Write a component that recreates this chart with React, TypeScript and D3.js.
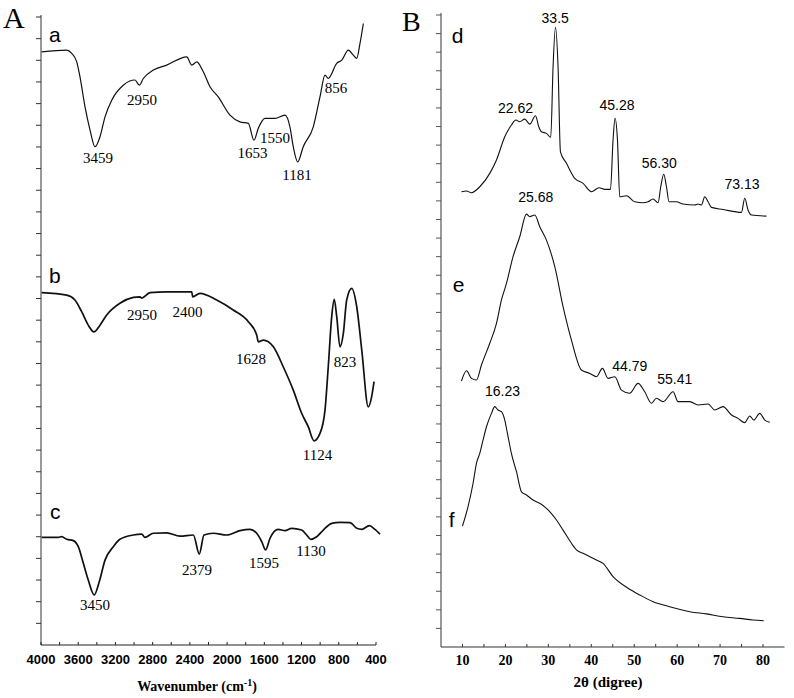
import React from "react";
import * as d3 from "d3";

// ---------- Panel A: FTIR spectra (wavenumber, transmittance a.u.) ----------
const aWave = [3993, 3724, 3670, 3616, 3581, 3527, 3473, 3419, 3366, 3312, 3240, 3116, 2990, 2943, 2901, 2793, 2649, 2434, 2380, 2326, 2256, 2184, 2095, 1969, 1862, 1772, 1711, 1665, 1593, 1485, 1378, 1325, 1289, 1241, 1182, 1074, 1002, 948, 913, 822, 768, 697, 644, 607, 572, 536];
const aTrans = [27.39, 27.47, 27.32, 26.93, 26.24, 24.85, 23.78, 23.01, 23.47, 24.39, 25.16, 25.85, 26.09, 25.85, 26.16, 26.55, 26.78, 27.16, 26.78, 26.93, 26.47, 25.78, 25.31, 24.47, 24.16, 24.09, 23.31, 23.86, 24.32, 24.32, 24.47, 23.93, 23.01, 22.31, 23.01, 23.93, 25.31, 26.32, 26.16, 26.86, 27.01, 27.47, 27.24, 27.09, 27.78, 28.7];

const bWave = [3993, 3724, 3635, 3563, 3492, 3431, 3366, 3294, 3152, 3008, 2936, 2918, 2829, 2649, 2380, 2370, 2292, 2112, 1934, 1772, 1682, 1665, 1611, 1503, 1397, 1289, 1199, 1128, 1066, 1002, 948, 913, 876, 849, 822, 787, 751, 715, 661, 607, 553, 483, 447, 421];
const bTrans = [16.27, 16.16, 15.93, 15.39, 14.77, 14.46, 14.77, 15.24, 15.78, 16.05, 16.08, 16.02, 16.27, 16.31, 16.31, 16.08, 16.24, 15.93, 15.47, 14.93, 14.31, 14.0, 14.08, 13.77, 12.85, 11.77, 10.7, 10.08, 9.43, 9.77, 10.85, 12.85, 15.16, 15.96, 15.16, 13.77, 14.39, 15.93, 16.47, 15.62, 13.62, 11.0, 11.46, 12.16];

const cWave = [3993, 3814, 3778, 3724, 3653, 3599, 3545, 3492, 3428, 3374, 3312, 3223, 3152, 3008, 2918, 2883, 2793, 2649, 2506, 2363, 2299, 2248, 2149, 2005, 1862, 1754, 1682, 1628, 1586, 1539, 1450, 1378, 1306, 1199, 1145, 1101, 1037, 966, 876, 787, 679, 607, 553, 472, 411, 357];
const cTrans = [4.97, 4.97, 5.0, 4.88, 4.82, 4.54, 3.77, 3.0, 2.31, 2.92, 3.92, 4.54, 4.88, 5.08, 5.12, 4.97, 5.16, 5.18, 5.03, 5.08, 4.2, 5.08, 5.16, 5.08, 5.28, 5.34, 5.16, 4.77, 4.39, 4.93, 5.34, 5.28, 5.39, 5.31, 5.08, 4.88, 5.0, 5.31, 5.62, 5.66, 5.65, 5.39, 5.34, 5.51, 5.34, 5.12];

const irTickLabels = [4000, 3600, 3200, 2800, 2400, 2000, 1600, 1200, 800, 400];
const irPeakText = ["3459", "2950", "1653", "1550", "1181", "856", "2950", "2400", "1628", "823", "1124", "3450", "2379", "1595", "1130"];
const irPeakWave = [3387, 2915, 1727, 1485, 1249, 830, 2915, 2426, 1743, 733, 1029, 3420, 2324, 1604, 1099];
const irPeakY = [22.25, 24.93, 22.48, 23.18, 21.47, 25.48, 15.0, 15.16, 12.97, 12.83, 8.54, 1.62, 3.23, 3.55, 4.11];
const irCurveNames = ["a", "b", "c"];
const irNameWave = [3914, 3914, 3903];
const irNameY = [27.84, 16.71, 5.82];

// ---------- Panel B: XRD patterns (2θ, intensity a.u.) ----------
const dTheta = [9.77, 10.93, 12.1, 14.03, 16.36, 17.92, 19.85, 21.41, 22.41, 23.34, 24.51, 25.67, 27.0, 27.77, 28.4, 29.56, 30.56, 31.1, 31.66, 32.26, 32.82, 34.22, 36.15, 38.09, 40.04, 41.81, 43.14, 44.47, 45.07, 45.54, 46.1, 46.63, 48.19, 50.13, 52.06, 53.22, 54.39, 55.55, 56.18, 56.88, 57.51, 58.11, 59.84, 61.37, 64.1, 64.87, 65.66, 66.43, 67.2, 67.99, 70.69, 74.97, 75.74, 76.51, 77.3, 80.8];
const dInt = [24.49, 24.53, 24.44, 24.76, 25.48, 26.2, 27.45, 28.08, 28.35, 28.26, 28.4, 28.13, 28.58, 27.99, 27.72, 27.63, 27.42, 31.22, 33.34, 31.22, 26.64, 26.02, 25.21, 24.94, 24.49, 24.71, 24.62, 24.62, 27.27, 28.44, 27.27, 24.22, 24.28, 23.95, 23.9, 23.95, 24.1, 23.9, 24.76, 25.43, 24.76, 23.95, 23.95, 23.83, 23.78, 23.83, 23.78, 24.22, 23.95, 23.65, 23.54, 23.38, 24.14, 23.51, 23.24, 23.18];

const eTheta = [9.77, 10.93, 12.1, 13.26, 14.42, 16.36, 17.92, 19.08, 20.25, 21.78, 23.34, 24.9, 25.67, 26.84, 28.0, 29.56, 31.5, 33.43, 35.38, 37.71, 39.65, 41.21, 42.6, 43.91, 45.47, 47.03, 48.96, 50.89, 52.45, 54.01, 55.18, 56.72, 59.05, 60.21, 62.94, 64.87, 67.2, 68.76, 70.69, 72.65, 74.18, 75.74, 76.91, 77.84, 79.24, 80.41, 81.57];
const eInt = [14.31, 14.86, 14.45, 14.36, 15.17, 16.34, 17.41, 18.67, 19.56, 21.0, 22.07, 23.29, 23.15, 23.24, 22.61, 21.89, 20.46, 18.31, 16.51, 14.9, 14.72, 14.54, 14.99, 14.45, 14.54, 13.82, 13.65, 14.18, 13.73, 13.11, 13.38, 13.2, 13.73, 13.2, 13.2, 13.02, 13.07, 12.75, 12.93, 12.48, 12.3, 12.07, 12.43, 12.21, 12.57, 12.21, 12.09];

const fTheta = [10.0, 11.3, 12.47, 13.26, 14.03, 14.8, 15.59, 16.75, 17.52, 18.29, 19.08, 19.85, 20.55, 21.48, 22.58, 23.74, 24.9, 26.44, 28.0, 29.56, 31.89, 33.43, 35.38, 36.55, 38.09, 39.65, 41.21, 42.74, 45.07, 48.57, 51.29, 54.39, 58.28, 62.94, 66.82, 70.69, 74.58, 77.68, 80.17];
const fInt = [6.51, 7.55, 8.81, 9.88, 10.42, 11.14, 11.85, 12.57, 12.93, 12.75, 12.66, 12.21, 11.4, 10.33, 9.43, 8.35, 8.18, 7.91, 7.73, 7.46, 6.83, 6.29, 5.58, 5.22, 5.04, 4.86, 4.68, 4.5, 3.78, 3.16, 2.8, 2.44, 2.17, 1.9, 1.78, 1.63, 1.54, 1.45, 1.41];

const xrdTickLabels = [10, 20, 30, 40, 50, 60, 70, 80];
const xrdPeakText = ["33.5", "22.62", "45.28", "56.30", "73.13", "25.68", "44.79", "55.41", "16.23"];
const xrdPeakTheta = [31.6, 22.34, 45.98, 55.83, 75.09, 27.07, 48.96, 59.44, 19.32];
const xrdPeakY = [33.55, 28.74, 28.89, 25.78, 24.62, 23.92, 14.86, 14.13, 13.5];
const xrdCurveNames = ["d", "e", "f"];
const xrdNameTheta = [7.51, 7.74, 6.81];
const xrdNameY = [32.49, 19.1, 6.46];

const SERIF = "'Times New Roman', 'Liberation Serif', serif";
const SANS = "Arial, 'Liberation Sans', sans-serif";

export default function App() {
  const xA = d3.scaleLinear().domain([4000, 400]).range([41, 376]);
  const yA = d3.scaleLinear().domain([0, 29]).range([645, 17]);
  const xB = d3.scaleLinear().domain([5, 85]).range([441, 784.5]);
  const yB = d3.scaleLinear().domain([0, 34]).range([647, 15]);

  const lineA = d3
    .line<[number, number]>()
    .x((d) => xA(d[0]))
    .y((d) => yA(d[1]))
    .curve(d3.curveMonotoneX);
  const lineB = d3
    .line<[number, number]>()
    .x((d) => xB(d[0]))
    .y((d) => yB(d[1]))
    .curve(d3.curveMonotoneX);

  const zip = (xs: number[], ys: number[]) => xs.map((x, i) => [x, ys[i]] as [number, number]);

  const irSeries = [
    { d: zip(aWave, aTrans), w: 1.2 },
    { d: zip(bWave, bTrans), w: 1.7 },
    { d: zip(cWave, cTrans), w: 1.7 },
  ];
  const xrdSeries = [zip(dTheta, dInt), zip(eTheta, eInt), zip(fTheta, fInt)];

  const irMinor = d3.range(4000, 399, -200);
  const xrdMinor = d3.range(10, 81, 5);
  const yTicksA = d3.range(1, 30);
  const yTicksB = d3.range(1, 35);

  return (
    <svg
      width={794}
      height={698}
      style={{ position: "absolute", left: 0, top: 0, background: "#fff" }}
    >
      <rect x={0} y={0} width={794} height={698} fill="#fff" />

      {/* ---------------- Panel A ---------------- */}
      <text x={3} y={28} fontFamily={SERIF} fontSize={30}>A</text>
      <line x1={xA(4000)} x2={xA(4000)} y1={15} y2={yA(0)} stroke="#333" strokeWidth={1} />
      <line x1={xA(4000)} x2={xA(400)} y1={yA(0)} y2={yA(0)} stroke="#222" strokeWidth={1.2} />
      {yTicksA.map((t) => (
        <line key={"ya" + t} x1={xA(4000) - 5} x2={xA(4000)} y1={yA(t)} y2={yA(t)} stroke="#333" strokeWidth={1} />
      ))}
      {irMinor.map((t) => (
        <line key={"xa" + t} x1={xA(t)} x2={xA(t)} y1={yA(0)} y2={yA(0) - 3} stroke="#222" strokeWidth={1} />
      ))}
      {irTickLabels.map((t) => (
        <text key={"xal" + t} x={xA(t)} y={664} textAnchor="middle" fontFamily={SANS} fontWeight="bold" fontSize={13}>
          {t}
        </text>
      ))}
      <text x={197} y={691} textAnchor="middle" fontFamily={SERIF} fontWeight="bold" fontSize={14}>
        Wavenumber (cm
        <tspan dy={-5} fontSize={10}>-1</tspan>
        <tspan dy={5}>)</tspan>
      </text>
      {irSeries.map((s, i) => (
        <path key={"ir" + i} d={lineA(s.d) || ""} fill="none" stroke="#111" strokeWidth={s.w} strokeLinejoin="round" />
      ))}
      {irPeakText.map((t, i) => (
        <text key={"irp" + i} x={xA(irPeakWave[i])} y={yA(irPeakY[i])} textAnchor="middle" fontFamily={SERIF} fontSize={15}>
          {t}
        </text>
      ))}
      {irCurveNames.map((n, i) => (
        <text key={"irn" + n} x={xA(irNameWave[i])} y={yA(irNameY[i])} fontFamily={SANS} fontSize={21}>
          {n}
        </text>
      ))}

      {/* ---------------- Panel B ---------------- */}
      <text x={402} y={31} fontFamily={SERIF} fontSize={28}>B</text>
      <line x1={xB(5)} x2={xB(5)} y1={13} y2={yB(0)} stroke="#555" strokeWidth={1.2} />
      <line x1={xB(5)} x2={xB(85)} y1={yB(0)} y2={yB(0)} stroke="#333" strokeWidth={1.2} />
      {yTicksB.map((t) => (
        <line key={"yb" + t} x1={xB(5) - 5} x2={xB(5)} y1={yB(t)} y2={yB(t)} stroke="#555" strokeWidth={1} />
      ))}
      {xrdMinor.map((t) => (
        <line key={"xb" + t} x1={xB(t)} x2={xB(t)} y1={yB(0)} y2={yB(0) - 3} stroke="#333" strokeWidth={1} />
      ))}
      {xrdTickLabels.map((t) => (
        <text key={"xbl" + t} x={xB(t)} y={665} textAnchor="middle" fontFamily={SERIF} fontWeight="bold" fontSize={14}>
          {t}
        </text>
      ))}
      <text x={608} y={687} textAnchor="middle" fontFamily={SERIF} fontWeight="bold" fontSize={15}>
        2θ (digree)
      </text>
      {xrdSeries.map((s, i) => (
        <path key={"xrd" + i} d={lineB(s) || ""} fill="none" stroke="#111" strokeWidth={1.1} strokeLinejoin="round" />
      ))}
      {xrdPeakText.map((t, i) => (
        <text key={"xp" + i} x={xB(xrdPeakTheta[i])} y={yB(xrdPeakY[i])} textAnchor="middle" fontFamily={SANS} fontSize={14}>
          {t}
        </text>
      ))}
      {xrdCurveNames.map((n, i) => (
        <text key={"xn" + n} x={xB(xrdNameTheta[i])} y={yB(xrdNameY[i])} fontFamily={SANS} fontSize={21}>
          {n}
        </text>
      ))}
    </svg>
  );
}
